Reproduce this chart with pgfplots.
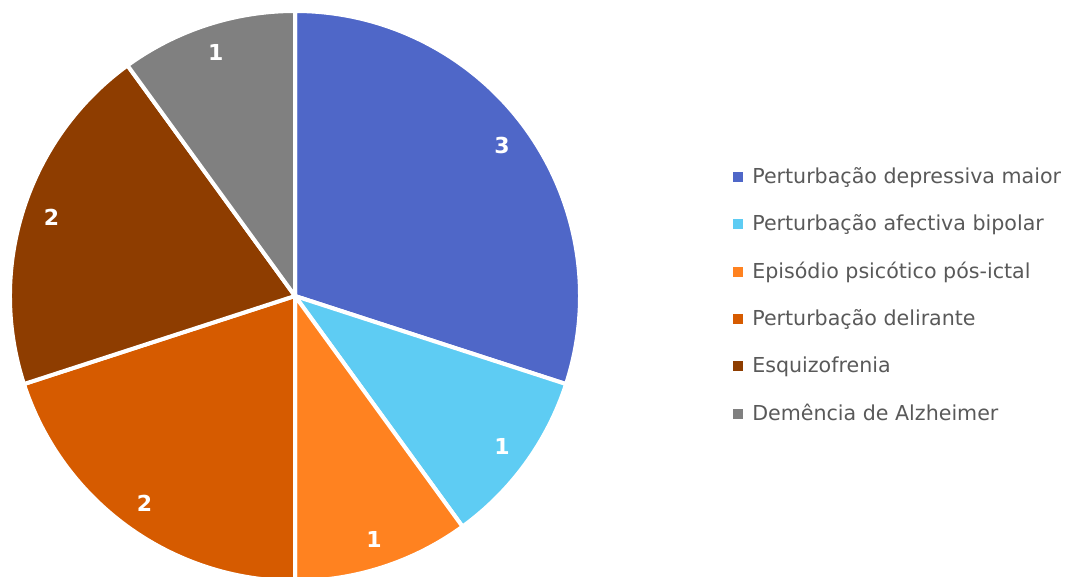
\documentclass[border=0pt]{standalone}
\usepackage{fontspec}
\setmainfont{DejaVu Sans}
\usepackage{pgfplots}
\usepackage{pgfplotstable}
\pgfplotsset{compat=1.18}

\definecolor{cDep}{RGB}{79,103,200}
\definecolor{cBip}{RGB}{94,204,243}
\definecolor{cPsi}{RGB}{255,130,32}
\definecolor{cDel}{RGB}{214,91,0}
\definecolor{cEsq}{RGB}{142,61,0}
\definecolor{cAlz}{RGB}{128,128,128}
\definecolor{legtext}{RGB}{89,89,89}

% diagnoses, counts and slice colours (clockwise from 12 o'clock)
\pgfplotstableread[col sep=comma]{
label,value,color
Perturbação depressiva maior,3,cDep
Perturbação afectiva bipolar,1,cBip
Episódio psicótico pós-ictal,1,cPsi
Perturbação delirante,2,cDel
Esquizofrenia,2,cEsq
Demência de Alzheimer,1,cAlz
}\piedata

\begin{document}
\begin{tikzpicture}
\def\cum{0}
\def\cx{295}\def\cy{281}
\begin{axis}[
  width=534.5pt, height=288.5pt, scale only axis,
  xmin=0, xmax=1069, ymin=0, ymax=577,
  hide axis, clip=true,
  legend style={at={(0.6856,0.717)}, anchor=north west, draw=none, fill=none,
    inner sep=0pt, row sep=10.1pt, text=legtext,
    font=\fontsize{10.3}{12}\selectfont},
  legend cell align=left,
  legend image code/.code={\fill[#1] (0pt,-2.5pt) rectangle (5pt,2.5pt);
    \path (0pt,0pt) (7.5pt,0pt);},
]
% keep the whole axis box as the picture's extent
\path (rel axis cs:0,0) rectangle (rel axis cs:1,1);
\pgfplotsforeachungrouped \i in {0,...,5}{%
  \pgfplotstablegetelem{\i}{value}\of\piedata \let\v=\pgfplotsretval
  \pgfplotstablegetelem{\i}{color}\of\piedata \let\c=\pgfplotsretval
  \pgfplotstablegetelem{\i}{label}\of\piedata \let\l=\pgfplotsretval
  \pgfmathsetmacro\a{90-36*\cum}
  \pgfmathsetmacro\b{\a-36*\v}
  \pgfmathsetmacro\m{(\a+\b)/2}
  \pgfmathsetmacro\sx{\cx+285*cos(\a)}
  \pgfmathsetmacro\sy{\cy+285*sin(\a)}
  \pgfmathsetmacro\lx{\cx+256*cos(\m)}
  \pgfmathsetmacro\ly{\cy+256*sin(\m)}
  \edef\tmp{%
    \noexpand\fill[\c, draw=white, line width=2pt, line join=round]
      (axis cs:\cx,\cy) -- (axis cs:\sx,\sy)
      arc[start angle=\a, end angle=\b, radius=142.5pt] -- cycle;
    \noexpand\node[text=white, font=\noexpand\fontsize{11}{13}\noexpand\selectfont\noexpand\bfseries]
      at (axis cs:\lx,\ly) {\v};
    \noexpand\addlegendimage{fill=\c, draw=none}
    \noexpand\addlegendentry{\l}%
  }\tmp
  \pgfmathsetmacro\cum{\cum+\v}
}
\end{axis}
\end{tikzpicture}
\end{document}
